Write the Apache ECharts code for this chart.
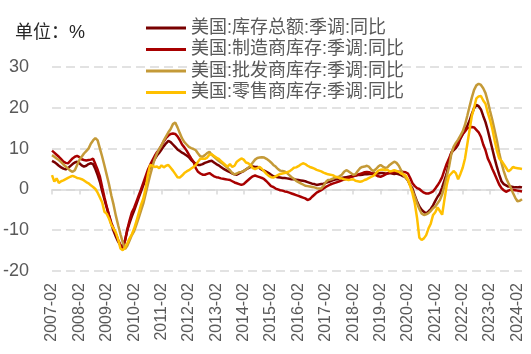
<!DOCTYPE html>
<html>
<head>
<meta charset="utf-8">
<script src="https://cdn.jsdelivr.net/npm/echarts@6/dist/echarts.min.js"></script>
<style>
  html, body { margin: 0; padding: 0; background: #fff; }
  #chart { width: 531px; height: 354px; }
</style>
</head>
<body>
<div id="chart"></div>
<script>
// 月份类目：2007-02 起，共 207 个月
const months = [];
for (let k = 0; k < 207; k++) {
  const y = 2007 + Math.floor((k + 1) / 12);
  const m = ((k + 1) % 12) + 1;
  months.push(y + '-' + (m < 10 ? '0' + m : m));
}

const seriesNames = [
  '美国:库存总额:季调:同比',
  '美国:制造商库存:季调:同比',
  '美国:批发商库存:季调:同比',
  '美国:零售商库存:季调:同比'
];

// 库存总额
const totalInv = [
  7.0, 6.7, 6.3, 5.8, 5.4, 5.1, 4.9, 5.2, 5.7, 6.2, 6.6, 6.8,
  6.4, 5.9, 5.6, 5.8, 6.2, 6.4, 6.2, 5.0, 3.5, 1.8, -0.5, -2.5,
  -4.5, -6.5, -8.5, -10.2, -11.6, -12.8, -13.7, -14.3, -12.5, -10.0, -8.2, -6.6,
  -5.2, -3.6, -2.0, -0.5, 1.0, 2.5, 4.2, 5.4, 6.4, 7.4, 8.3, 9.0,
  9.8, 10.6, 11.3, 11.9, 11.6, 11.0, 10.4, 9.8, 9.4, 9.0, 8.7, 8.3,
  7.9, 7.2, 6.7, 6.3, 6.0, 6.0, 6.2, 6.5, 6.7, 6.9, 7.0, 6.6,
  6.2, 5.9, 5.5, 5.1, 4.8, 4.5, 4.2, 3.9, 3.7, 3.6, 3.9, 4.2,
  4.5, 4.9, 5.2, 5.5, 5.6, 5.5, 5.5, 5.2, 4.8, 4.6, 4.3, 4.0,
  3.6, 3.2, 3.1, 3.0, 2.9, 2.8, 2.8, 2.7, 2.6, 2.5, 2.5, 2.4,
  2.3, 2.2, 2.1, 2.0, 1.8, 1.6, 1.4, 1.3, 1.1, 1.2, 1.3, 1.4,
  1.6, 1.8, 2.0, 2.2, 2.4, 2.5, 2.7, 2.8, 2.9, 3.0, 3.1, 3.2,
  3.3, 3.4, 3.5, 3.5, 3.6, 3.7, 3.7, 3.8, 3.8, 3.9, 3.9, 3.9,
  4.0, 4.0, 3.9, 3.9, 4.0, 3.9, 3.8, 3.9, 3.7, 3.5, 3.2, 3.0,
  2.2, 1.0, 0.2, -1.5, -3.0, -4.2, -5.0, -5.5, -5.9, -5.4, -4.8, -3.9,
  -2.8, -1.8, -1.0, 0.5, 2.2, 3.9, 6.5, 9.0, 9.6, 10.1, 11.0, 12.5,
  13.6, 14.6, 15.6, 16.8, 18.5, 19.9, 20.7, 20.4, 19.6, 18.0, 16.5, 14.5,
  12.2, 9.9, 7.6, 5.5, 3.6, 2.0, 1.3, 1.0, 0.7, 0.7, 0.6, 0.5,
  0.5, 0.6, 0.5
];

// 制造商库存
const mfgInv = [
  9.5, 9.0, 8.5, 8.0, 7.4, 6.8, 6.5, 6.4, 7.0, 7.6, 8.0, 8.2,
  7.9, 7.4, 7.2, 7.1, 7.2, 7.3, 7.5, 6.2, 4.8, 3.1, 0.5, -2.0,
  -4.3, -6.3, -8.2, -9.6, -11.0, -12.4, -13.6, -14.5, -12.5, -9.8, -7.6, -5.6,
  -4.5, -3.0, -1.5, 0.0, 1.6, 3.2, 4.8, 6.0, 7.1, 8.2, 9.1, 9.8,
  10.8, 11.8, 12.6, 13.2, 13.6, 13.7, 13.6, 13.0, 12.1, 11.0, 10.3, 9.5,
  8.5, 7.6, 6.8, 5.2, 4.3, 3.9, 3.6, 3.6, 3.8, 4.0, 3.6, 3.2,
  3.0, 2.9, 2.7, 2.6, 2.5, 2.4, 2.3, 2.0, 1.7, 1.5, 1.3, 1.1,
  1.3, 1.8, 2.3, 2.8, 3.2, 3.4, 3.2, 3.0, 2.8, 2.5, 2.0, 1.4,
  0.8, 0.6, 0.2, 0.0, -0.2, -0.3, -0.5, -0.6, -0.8, -1.0, -1.2, -1.4,
  -1.6, -1.8, -2.0, -2.2, -2.6, -2.4, -1.8, -1.3, -0.8, -0.5, -0.2, 0.2,
  0.6, 0.9, 1.2, 1.4, 1.6, 1.8, 2.0, 2.2, 2.4, 2.6, 2.8, 3.0,
  3.2, 3.4, 3.6, 3.8, 4.0, 4.2, 4.3, 4.2, 4.0, 3.8, 3.5, 3.2,
  3.1, 3.3, 3.6, 3.9, 4.1, 4.2, 4.3, 4.3, 4.3, 4.4, 4.3, 4.2,
  3.9, 2.8, 1.5, 0.8, 0.3, 0.1, -0.4, -0.8, -1.0, -1.0, -0.8, -0.5,
  0.2, 1.0, 1.9, 3.0, 4.7, 6.3, 7.6, 8.9, 10.0, 10.6, 11.5, 12.5,
  13.5, 14.2, 15.0, 15.2, 15.3, 15.2, 14.6, 14.0, 12.9, 11.0, 9.6, 7.6,
  6.4, 5.0, 3.8, 2.5, 1.2, 0.3, -0.2, -0.6, -0.3, -0.1, -0.1, -0.2,
  -0.3, -0.4, -0.5
];

// 批发商库存
const wholesaleInv = [
  8.4, 8.0, 7.6, 7.2, 6.7, 6.1, 5.6, 5.1, 4.6, 4.3, 4.7, 6.0,
  7.2, 8.0, 8.8, 9.4, 10.0, 11.2, 12.0, 12.6, 12.0, 10.0, 8.0, 5.8,
  3.5, 1.2, -1.5, -3.8, -6.5, -8.8, -11.0, -13.0, -14.6, -13.8, -12.5, -11.2,
  -10.2, -8.6, -7.0, -5.2, -3.5, -1.2, 1.2, 3.5, 5.5, 7.4, 8.8, 9.9,
  10.8, 12.0, 13.0, 14.0, 14.8, 16.0, 16.4, 15.2, 13.8, 12.5, 11.6, 11.0,
  10.4, 10.1, 9.9, 9.6, 8.8, 8.1, 8.0, 8.4, 8.9, 9.2, 8.5, 8.0,
  7.5, 7.0, 6.6, 6.2, 5.7, 5.2, 4.7, 4.0, 3.7, 3.9, 4.2, 4.3,
  4.5, 4.9, 5.3, 5.8, 6.6, 7.3, 7.7, 7.8, 7.9, 7.8, 7.5, 7.1,
  6.6, 6.0, 5.6, 5.0, 4.6, 4.5, 4.4, 4.0, 3.5, 3.0, 2.6, 2.1,
  1.8, 1.5, 1.2, 0.9, 0.8, 0.7, 0.6, 0.5, 0.3, 0.2, 0.2, 0.9,
  1.8, 2.3, 2.4, 2.6, 2.9, 3.0, 3.2, 3.6, 4.3, 4.7, 4.4, 4.0,
  3.6, 3.7, 4.5, 5.2, 5.5, 5.6, 5.8, 5.5, 4.8, 4.5, 5.0, 5.6,
  6.0, 5.6, 5.3, 5.4, 6.0, 6.4, 6.8, 6.5, 5.8, 4.7, 3.5, 2.8,
  2.2, 1.0, -0.4, -1.8, -3.4, -4.8, -5.9, -6.3, -6.1, -5.8, -5.3, -4.6,
  -4.2, -3.4, -2.6, -1.2, 0.8, 3.1, 5.5, 8.6, 10.4, 11.4, 12.2, 13.2,
  14.2, 15.8, 18.0, 20.3, 22.5, 24.4, 25.5, 25.9, 25.6, 24.8, 23.6, 21.6,
  19.2, 17.0, 14.5, 12.0, 9.0, 6.5, 4.5, 2.8, 1.6, 0.5, -0.8, -2.0,
  -2.9, -2.8, -2.4
];

// 零售商库存
const retailInv = [
  3.5, 1.9, 2.7, 1.6, 2.0, 2.2, 2.5, 2.8, 3.1, 3.3, 3.1, 2.8,
  2.7, 2.5, 2.2, 1.8, 1.5, 1.0, 0.6, 0.1, -0.8, -2.0, -3.2, -5.5,
  -6.0, -7.2, -8.7, -9.6, -10.6, -12.3, -14.5, -14.9, -14.3, -13.2, -12.0, -11.0,
  -9.6, -7.8, -5.8, -3.8, -2.3, 0.2, 3.5, 6.0, 5.8, 5.5, 5.6, 5.2,
  5.9, 5.4, 5.8, 6.0, 5.3, 4.6, 3.8, 3.0, 2.9, 3.4, 4.0, 4.4,
  4.7, 5.1, 5.5, 6.0, 6.8, 7.5, 7.5, 7.5, 7.8, 8.5, 8.6, 8.2,
  7.8, 7.5, 7.0, 6.5, 6.0, 5.6, 6.2, 5.5, 5.8, 6.8, 7.2, 7.6,
  7.3, 6.6, 6.4, 6.0, 5.2, 5.0, 5.2, 5.5, 5.0, 4.4, 3.8, 3.3,
  3.0, 2.9, 3.2, 3.5, 3.8, 3.9, 4.0, 4.2, 4.4, 4.8, 5.3, 5.4,
  5.7, 6.1, 6.4, 6.2, 5.8, 5.5, 5.3, 5.1, 4.8, 4.6, 4.4, 4.1,
  3.9, 3.7, 3.6, 3.5, 3.2, 3.0, 2.8, 2.7, 2.5, 2.4, 2.3, 2.4,
  2.5, 2.1, 2.0, 1.9, 2.0, 2.3, 2.5, 2.8, 3.1, 3.4, 4.0, 4.6,
  4.8, 4.9, 4.7, 4.8, 4.4, 4.5, 4.7, 4.5, 4.3, 3.9, 3.7, 3.4,
  2.4, 0.8, -1.0, -3.4, -7.0, -11.8, -12.4, -12.0, -11.2, -9.6, -8.4, -6.3,
  -5.6, -4.4, -5.3, -6.2, -2.5, 1.0, 3.3, 3.9, 4.5, 4.0, 2.5, 3.8,
  5.3, 7.5, 11.0, 14.5, 18.0, 20.0, 22.3, 22.8, 22.9, 21.8, 21.0, 18.8,
  17.0, 14.8, 12.0, 9.5, 7.6, 7.0, 6.2, 5.3, 4.4, 4.8, 5.5, 5.3,
  5.2, 5.1, 5.0
];

const colors = ['#780000', '#A80000', '#C49A38', '#FFC000'];
const fontStack = "'Liberation Sans', 'Noto Sans CJK SC', sans-serif";

const chart = echarts.init(document.getElementById('chart'), null, { renderer: 'canvas' });

const option = {
  animation: false,
  color: colors,
  textStyle: { fontFamily: fontStack },
  title: {
    text: '单位：%',
    left: 10,
    top: 19,
    textStyle: { fontSize: 18, fontWeight: 'normal', color: '#262626', fontFamily: fontStack }
  },
  legend: {
    orient: 'vertical',
    left: 141,
    top: 14,
    icon: 'rect',
    itemWidth: 40,
    itemHeight: 3,
    itemGap: 3.5,
    textStyle: { fontSize: 18, color: '#595959', fontFamily: fontStack }
  },
  grid: { left: 52, right: 9, top: 67, bottom: 83 },
  xAxis: [
    {
      type: 'category',
      data: months,
      boundaryGap: false,
      axisLine: { show: false, onZero: false },
      axisTick: { show: false },
      splitLine: { show: false },
      axisLabel: {
        interval: 11,
        rotate: 90,
        fontSize: 16,
        color: '#595959',
        margin: 12
      }
    },
    {
      type: 'category',
      data: months,
      boundaryGap: false,
      position: 'bottom',
      axisLine: { show: true, onZero: true, lineStyle: { color: '#d9d9d9', width: 1.5 } },
      axisTick: { show: true, interval: 11, length: 5, lineStyle: { color: '#d9d9d9', width: 1.5 } },
      axisLabel: { show: false },
      splitLine: { show: false }
    }
  ],
  yAxis: {
    type: 'value',
    min: -20,
    max: 30,
    interval: 10,
    axisLine: { show: false },
    axisTick: { show: false },
    axisLabel: { fontSize: 18, color: '#595959', margin: 23 },
    splitLine: { lineStyle: { type: [9, 5], color: '#d9d9d9', width: 1.5 } }
  },
  series: [totalInv, mfgInv, wholesaleInv, retailInv].map((d, k) => ({
    name: seriesNames[k],
    type: 'line',
    data: d,
    symbol: 'none',
    lineStyle: { width: 2.5 },
    xAxisIndex: 0
  }))
};

chart.setOption(option);
</script>
</body>
</html>
